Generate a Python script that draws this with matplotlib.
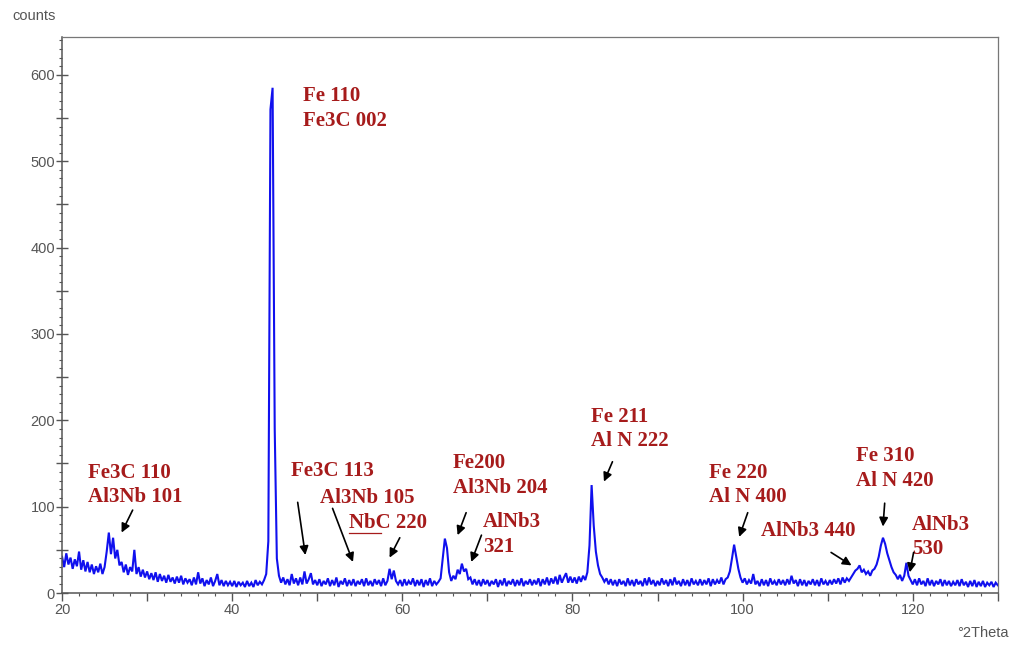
import matplotlib
matplotlib.use("Agg")
import matplotlib.pyplot as plt
import numpy as np
from matplotlib.ticker import MultipleLocator, FuncFormatter

# 2Theta sampling: 20 .. 130 deg, 0.25 deg step
theta_start = 20.0
theta_step = 0.25

# counts, one row per 5 deg (20 samples each)
counts_rows = [
    [42, 30, 46, 33, 41, 28, 39, 31, 48, 27, 38, 25, 36, 24, 33, 22, 31, 24, 34, 22],   # 20
    [30, 48, 70, 45, 64, 40, 50, 32, 36, 24, 33, 21, 30, 25, 50, 22, 30, 19, 27, 18],   # 25
    [25, 16, 23, 15, 24, 13, 22, 14, 20, 12, 21, 13, 18, 11, 19, 12, 20, 10, 17, 12],   # 30
    [16, 9, 18, 10, 24, 11, 17, 8, 15, 10, 18, 8, 14, 22, 9, 15, 8, 14, 9, 13],         # 35
    [8, 14, 7, 13, 9, 12, 7, 14, 8, 12, 7, 15, 9, 13, 10, 15, 22, 60, 560, 585],        # 40
    [190, 40, 20, 12, 18, 10, 16, 9, 22, 11, 17, 9, 18, 10, 25, 11, 16, 23, 10, 15],    # 45
    [9, 16, 8, 14, 10, 17, 8, 15, 9, 18, 7, 14, 10, 17, 8, 15, 9, 16, 8, 14],           # 50
    [10, 16, 8, 17, 9, 14, 8, 16, 10, 15, 8, 17, 9, 14, 28, 16, 26, 14, 10, 15],        # 55
    [8, 16, 9, 14, 10, 17, 8, 15, 9, 16, 7, 15, 9, 17, 8, 14, 10, 13, 17, 40],          # 60
    [63, 52, 24, 14, 20, 16, 27, 22, 34, 25, 28, 16, 18, 10, 16, 9, 15, 8, 16, 10],     # 65
    [15, 8, 14, 10, 16, 7, 15, 9, 17, 8, 14, 10, 16, 8, 15, 9, 17, 8, 14, 10],          # 70
    [16, 9, 15, 10, 17, 8, 16, 10, 18, 9, 17, 11, 19, 10, 21, 12, 18, 23, 12, 19],      # 75
    [12, 18, 11, 19, 13, 20, 15, 24, 55, 125, 78, 48, 32, 22, 18, 13, 17, 10, 16, 9],   # 80
    [15, 8, 16, 10, 14, 8, 17, 9, 15, 8, 16, 10, 14, 8, 17, 9, 18, 10, 15, 8],          # 85
    [14, 9, 17, 10, 15, 8, 16, 9, 18, 10, 14, 8, 16, 9, 15, 8, 17, 10, 14, 9],          # 90
    [16, 9, 15, 10, 17, 8, 16, 10, 15, 11, 18, 10, 16, 18, 25, 40, 56, 42, 28, 18],     # 95
    [12, 17, 10, 15, 11, 22, 10, 14, 8, 16, 9, 15, 8, 17, 10, 14, 9, 16, 10, 15],       # 100
    [9, 16, 10, 20, 11, 15, 8, 16, 9, 15, 8, 14, 10, 16, 9, 15, 8, 17, 10, 14],         # 105
    [9, 15, 10, 16, 11, 17, 10, 18, 12, 17, 14, 18, 22, 26, 28, 32, 24, 27, 22, 25],    # 110
    [20, 26, 28, 33, 42, 55, 64, 57, 46, 38, 30, 24, 21, 16, 21, 14, 20, 35, 20, 15],   # 115
    [10, 16, 9, 17, 10, 14, 8, 17, 9, 15, 8, 14, 10, 16, 8, 15, 9, 14, 8, 13],          # 120
    [9, 15, 8, 16, 9, 13, 7, 14, 8, 15, 7, 13, 8, 14, 7, 12, 9, 13, 7, 12],             # 125
    [9],                                                                                 # 130
]

# peak labels: text, anchor (2Theta, counts), arrow tail, arrow head
labels = [
    "Fe 110\nFe3C 002",
    "Fe3C 110\nAl3Nb 101",
    "Fe3C 113",
    "Al3Nb 105",
    "NbC 220",
    "Fe200\nAl3Nb 204",
    "AlNb3\n321",
    "Fe 211\nAl N 222",
    "Fe 220\nAl N 400",
    "AlNb3 440",
    "Fe 310\nAl N 420",
    "AlNb3\n530",
]
label_xy = [
    (48.3, 561), (23.0, 125), (46.9, 141), (50.3, 110), (53.7, 81), (65.9, 136),
    (69.5, 68), (82.2, 190), (96.0, 125), (102.2, 72), (113.3, 144), (119.9, 65),
]
arrow_tail = [
    None, (28.3, 96), (47.7, 105), (51.8, 98), (59.7, 64), (67.5, 93),
    (69.3, 67), (84.7, 152), (100.6, 93), (110.4, 47), (116.7, 104), (120.1, 47),
]
arrow_head = [
    None, (27.0, 70), (48.6, 44), (54.2, 36), (58.5, 41), (66.5, 67),
    (68.1, 36), (83.7, 129), (99.6, 65), (112.8, 32), (116.5, 77), (119.65, 24),
]


def main() -> None:
    counts = np.concatenate([np.asarray(r, dtype=float) for r in counts_rows])
    two_theta = theta_start + theta_step * np.arange(len(counts))

    fig = plt.figure(figsize=(10.12, 6.46), dpi=100)
    ax = fig.add_axes([0.0613, 0.082, 0.9247, 0.861])

    ax.plot(two_theta, counts, color="#1010ee", linewidth=1.5, solid_joinstyle="miter")

    ax.set_xlim(20, 130)
    ax.set_ylim(0, 644)

    ax.xaxis.set_major_locator(MultipleLocator(10))
    ax.xaxis.set_minor_locator(MultipleLocator(2))
    ax.xaxis.set_major_formatter(FuncFormatter(lambda v, p: f"{v:.0f}" if v % 20 == 0 else ""))
    ax.yaxis.set_major_locator(MultipleLocator(50))
    ax.yaxis.set_minor_locator(MultipleLocator(10))
    ax.yaxis.set_major_formatter(FuncFormatter(lambda v, p: f"{v:.0f}" if v % 100 == 0 else ""))

    ax.tick_params(which="major", length=6, width=1, color="#555555",
                   labelsize=10.5, labelcolor="#555555", pad=1)
    ax.tick_params(axis="y", which="major", direction="inout", length=8)
    ax.tick_params(which="minor", length=2.5, width=0.8, color="#555555")
    for side in ("top", "right"):
        ax.spines[side].set_color("#777777")
        ax.spines[side].set_linewidth(0.9)
    for side in ("left", "bottom"):
        ax.spines[side].set_color("#555555")
        ax.spines[side].set_linewidth(1.1)
    for lab in ax.get_xticklabels() + ax.get_yticklabels():
        lab.set_family("Liberation Sans")

    red = "#a61b1b"
    for text, (tx, ty) in zip(labels, label_xy):
        ax.text(tx, ty, text, ha="left", va="center", fontsize=15,
                family="Liberation Serif", fontweight="bold", color=red,
                linespacing=1.3)
    for tail, head in zip(arrow_tail, arrow_head):
        if tail is None:
            continue
        ax.annotate("", xy=head, xytext=tail,
                    arrowprops=dict(arrowstyle="-|>", color="black", lw=1.2,
                                    mutation_scale=13, shrinkA=0, shrinkB=0))
    # spell-check style underline under "NbC"
    ax.plot([53.7, 57.5], [69, 69], color=red, linewidth=0.9)

    fig.text(0.012, 0.975, "counts", ha="left", va="center", fontsize=10.5,
             color="#555555", family="Liberation Sans")
    fig.text(0.997, 0.02, "\u00b02Theta", ha="right", va="center", fontsize=10.5,
             color="#555555", family="Liberation Sans")

    fig.savefig("out.png", dpi=100)
    plt.close(fig)


if __name__ == "__main__":
    main()
